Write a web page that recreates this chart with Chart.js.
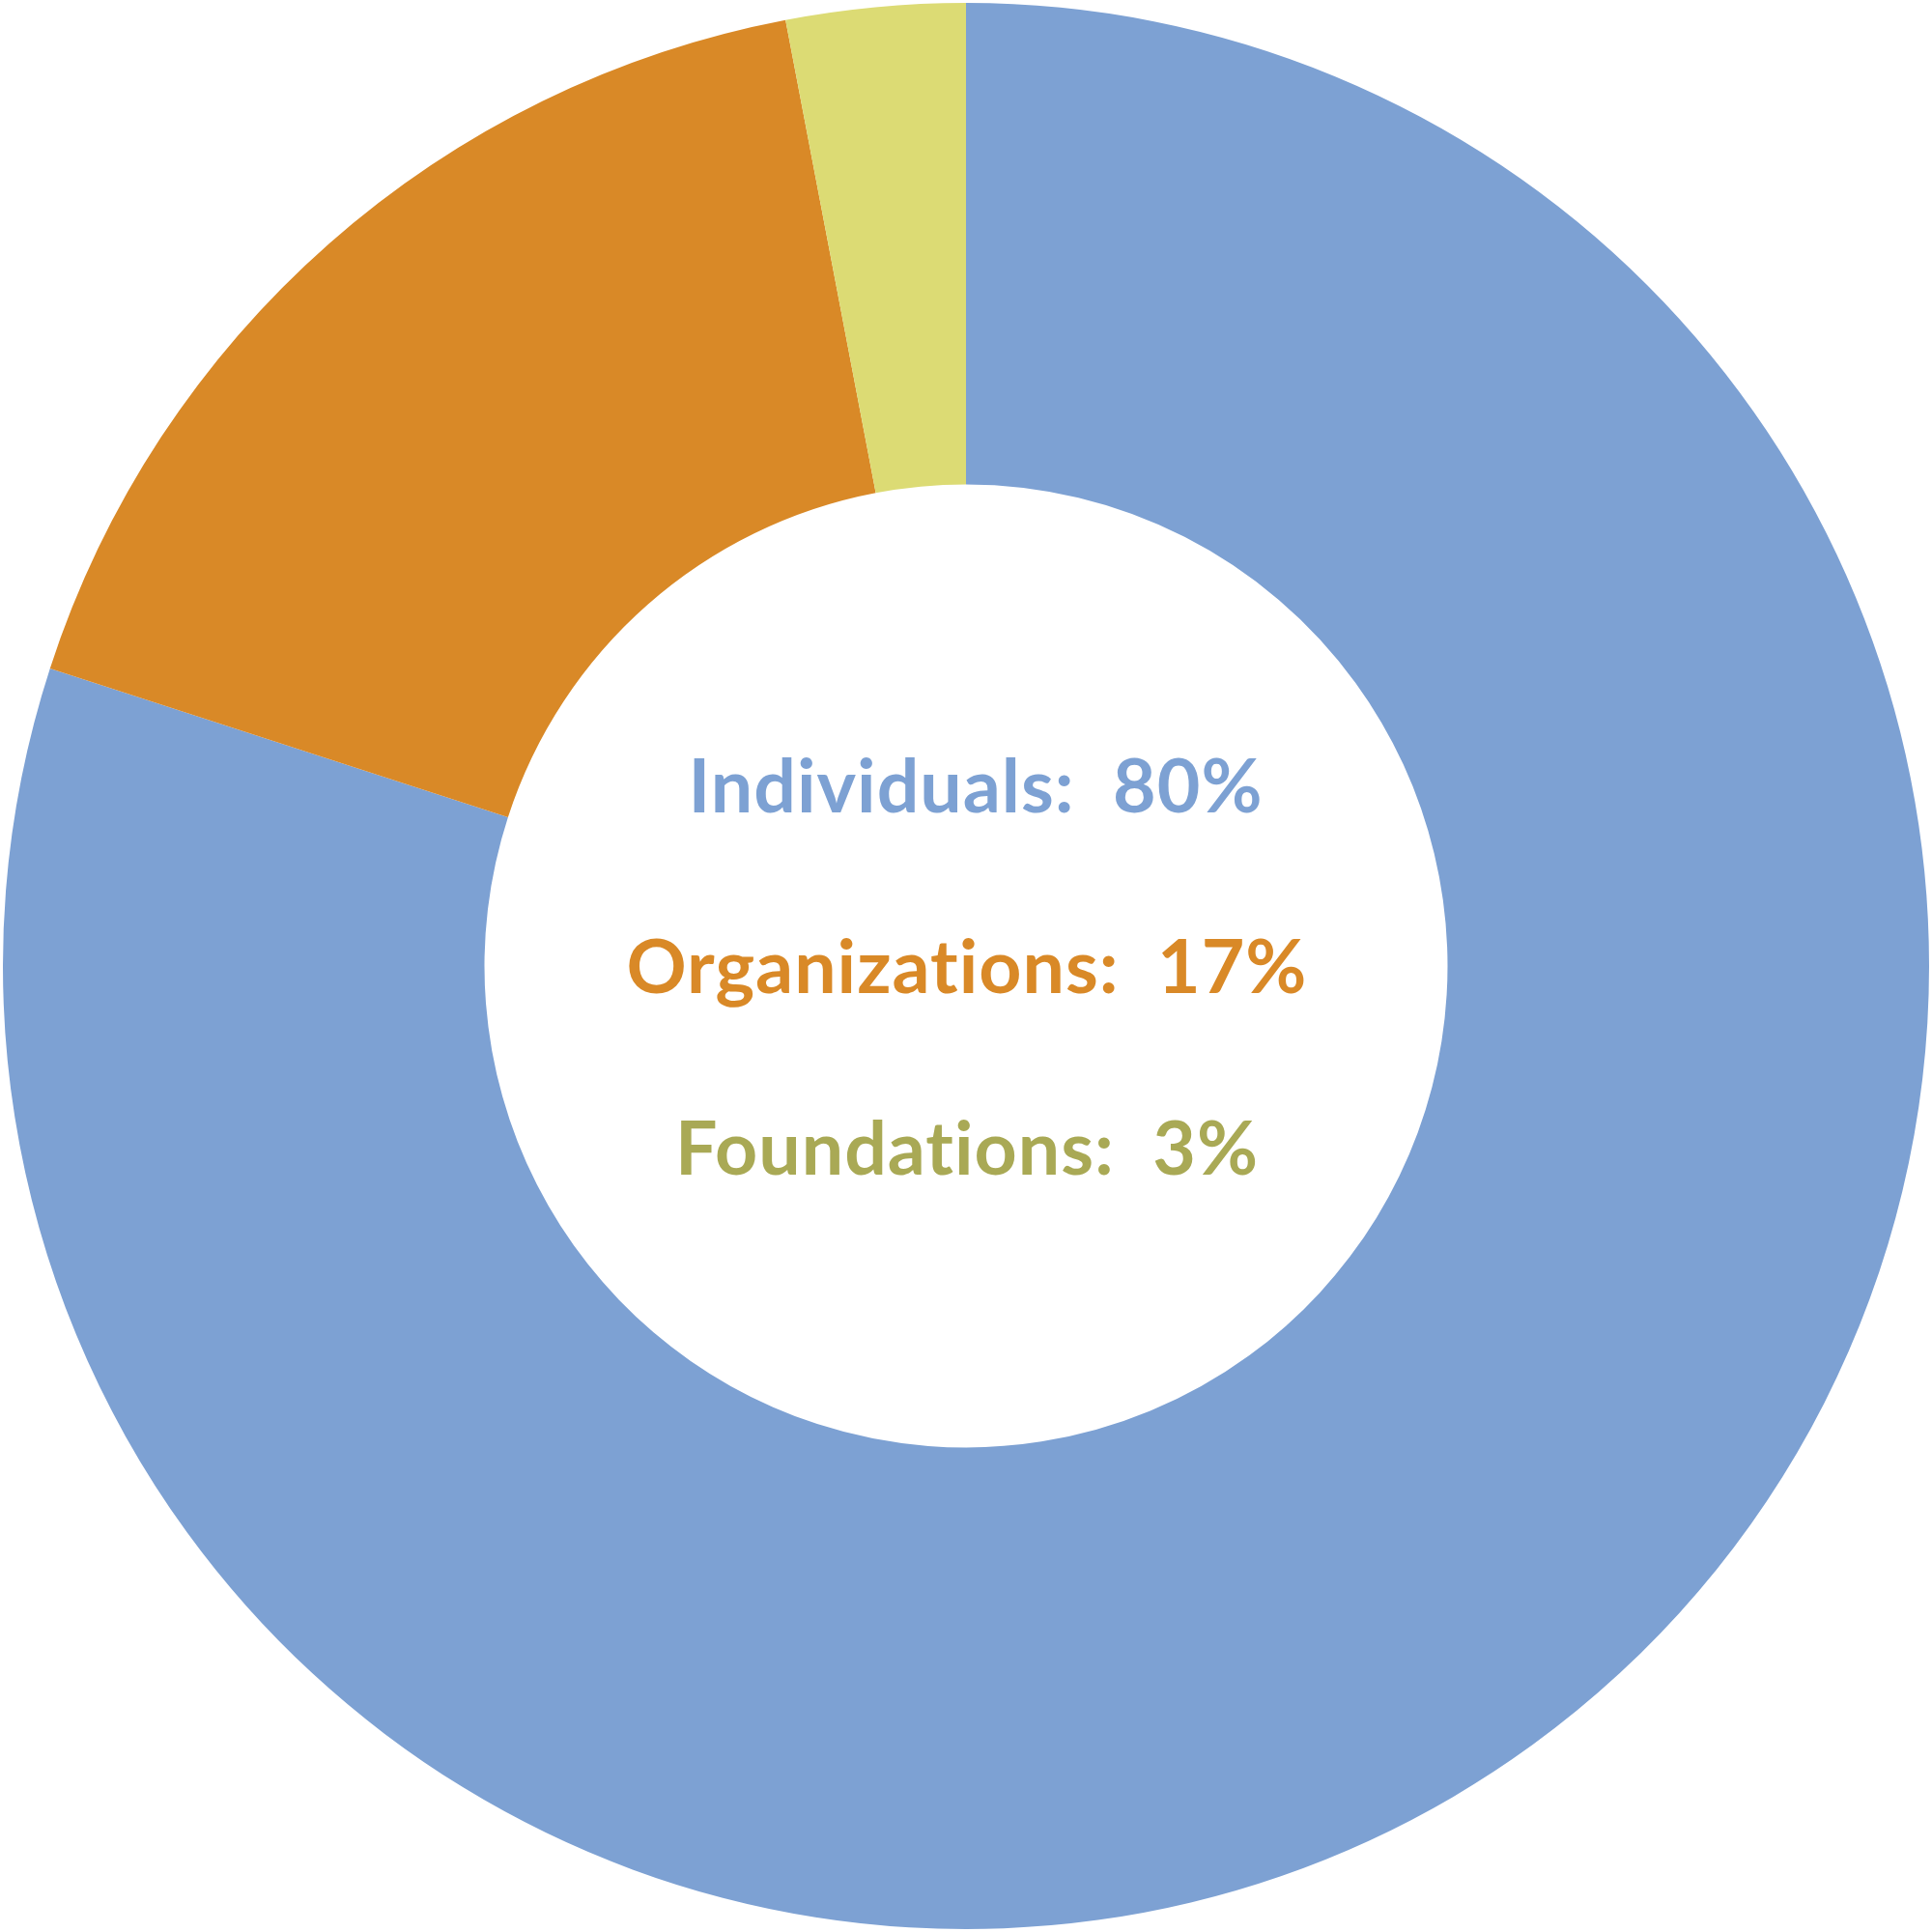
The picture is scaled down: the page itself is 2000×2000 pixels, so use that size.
<!DOCTYPE html>
<html>
<head>
<meta charset="utf-8">
<style>
  html, body { margin: 0; padding: 0; background: #fff; }
  #wrap { width: 2000px; height: 2000px; }
</style>
<script src="https://cdn.jsdelivr.net/npm/chart.js@4/dist/chart.umd.min.js"></script>
</head>
<body>
<div id="wrap"><canvas id="chartFontes"></canvas></div>
<script>
const categories  = ['Individuals', 'Organizations', 'Foundations'];
const values      = [80, 17, 3];
const sliceColors = ['#7DA1D3', '#D98927', '#DCDB74'];
const textColors  = ['#7DA1D3', '#D98927', '#A9A955'];

// texto central, uma linha por categoria
const centerText = {
  id: 'centerText',
  afterDraw(chart) {
    const { ctx } = chart;
    const meta = chart.getDatasetMeta(0).data[0];
    const cx = meta.x, cy = meta.y;
    const offsets = [-159, 28, 216];
    const shiftX  = [10, 1, 1];
    ctx.save();
    ctx.font = 'bold 77px Lato';
    ctx.letterSpacing = '1px';
    ctx.textAlign = 'center';
    ctx.textBaseline = 'alphabetic';
    categories.forEach((c, i) => {
      ctx.fillStyle = textColors[i];
      ctx.fillText(`${c}:  ${values[i]}%`, cx + shiftX[i], cy + offsets[i]);
    });
    ctx.restore();
  },
};

new Chart(document.getElementById('chartFontes'), {
  type: 'doughnut',
  data: { labels: categories, datasets: [{ data: values, backgroundColor: sliceColors, borderWidth: 0 }] },
  options: {
    responsive: true, maintainAspectRatio: false, cutout: '50%', animation: false,
    layout: { padding: 3 },
    plugins: { legend: { display: false }, tooltip: { enabled: false } },
  },
  plugins: [centerText],
});
</script>
</body>
</html>
